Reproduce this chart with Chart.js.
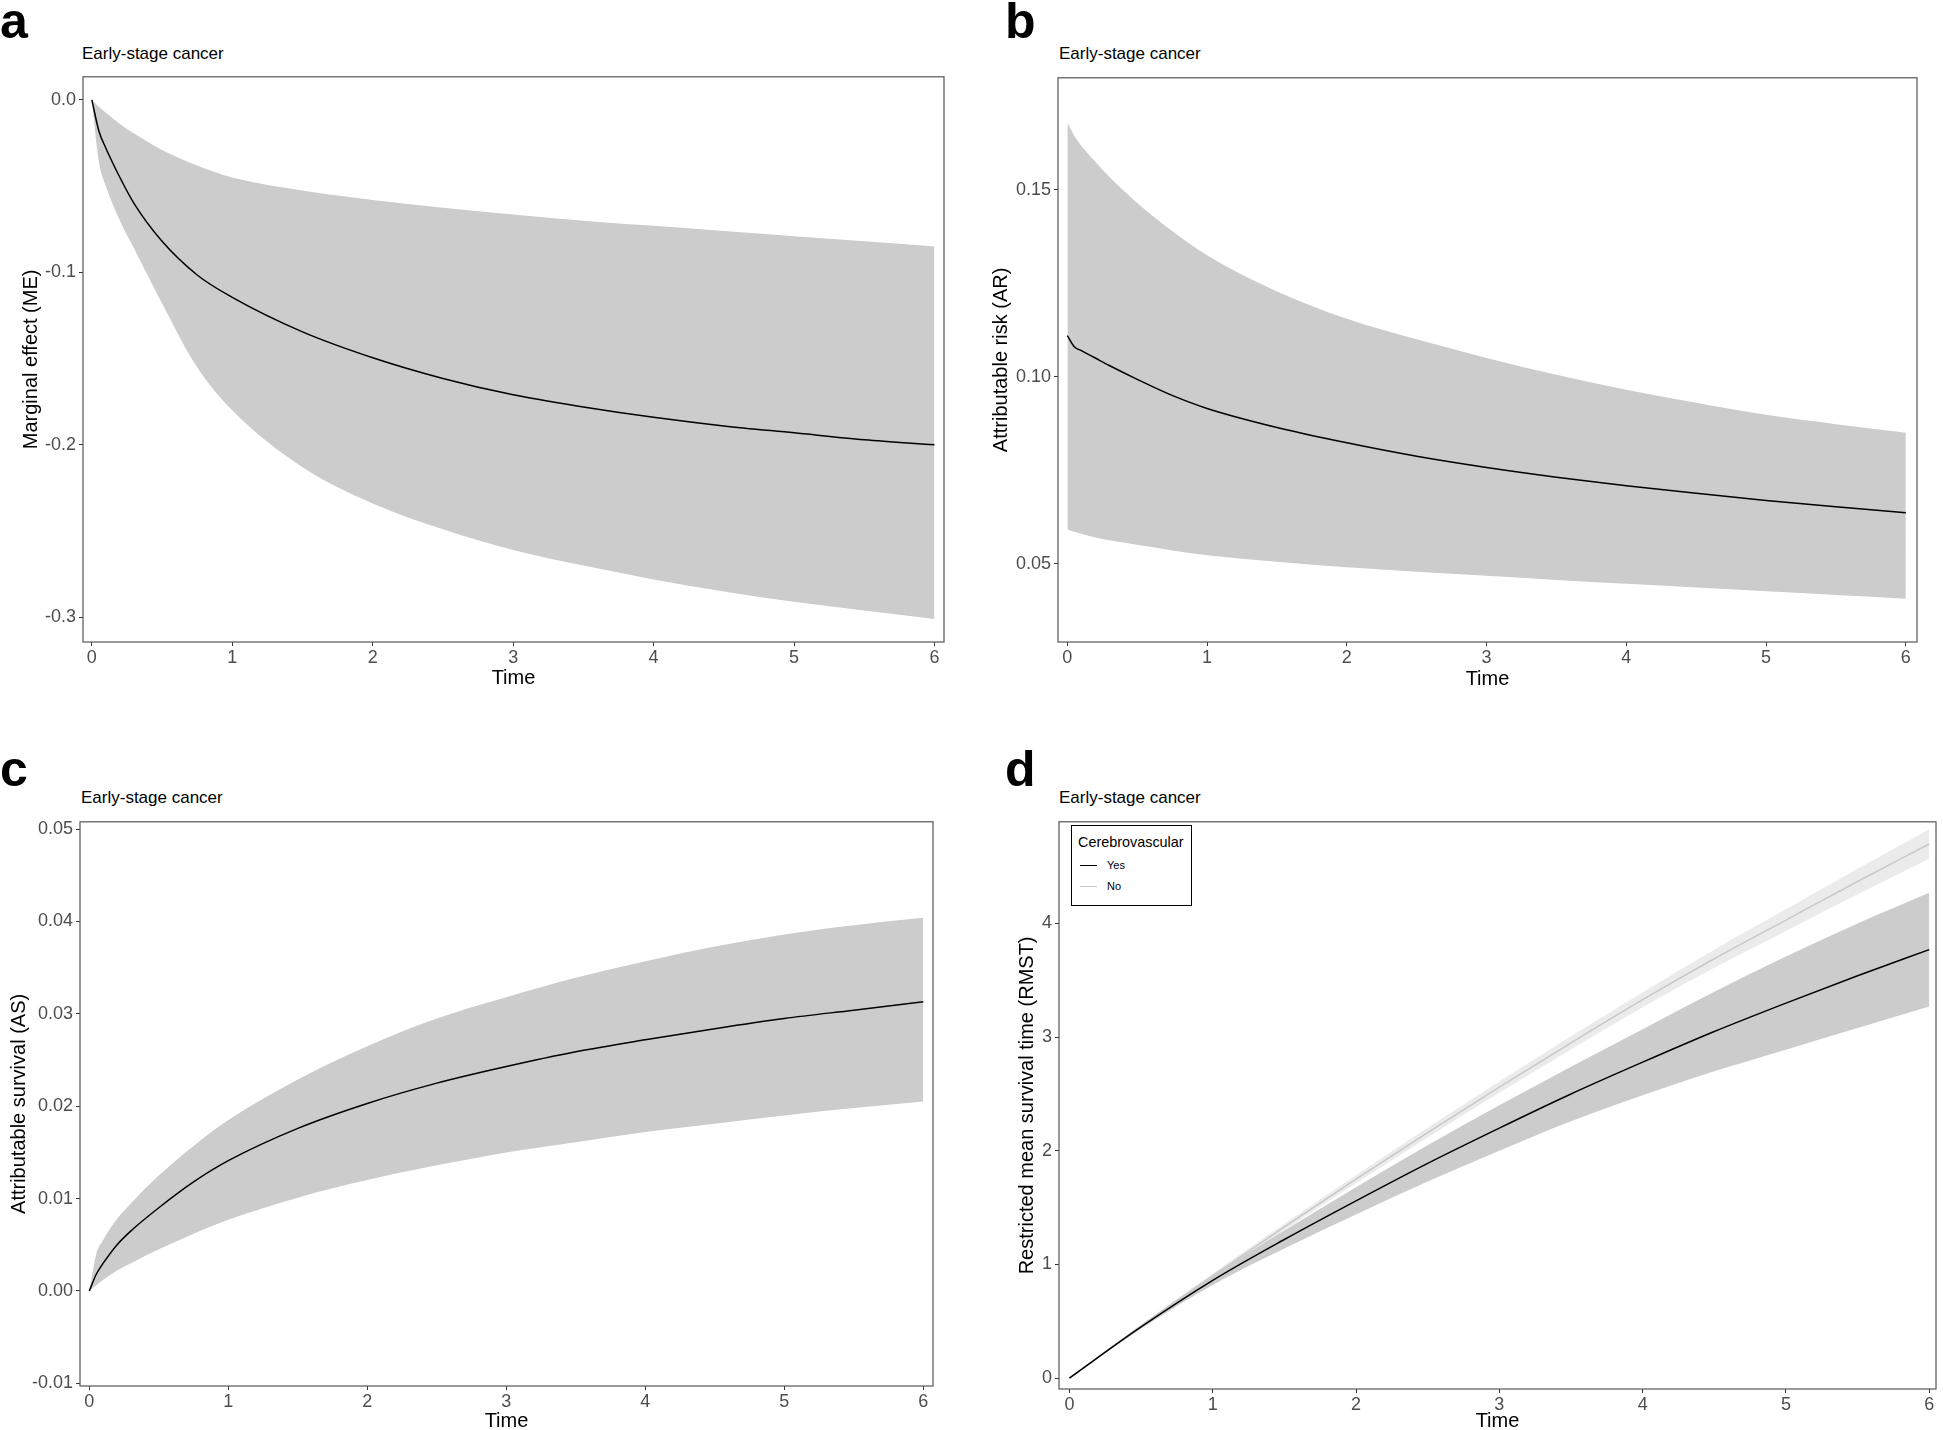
<!DOCTYPE html>
<html>
<head>
<meta charset="utf-8">
<script src="https://cdn.jsdelivr.net/npm/chart.js@4.4.0/dist/chart.umd.min.js"></script>
<style>
body { margin: 0; background: #fff; width: 1943px; height: 1430px; position: relative; overflow: hidden; font-family: "Liberation Sans", Arial, sans-serif; }
.panel { position: absolute; }
.tag { position: absolute; font-weight: bold; font-size: 50px; line-height: 50px; color: #000; }
.sub { position: absolute; font-size: 17px; line-height: 17px; color: #000; white-space: nowrap; }
.legend { position: absolute; border: 1.5px solid #000; background: #fff; box-sizing: border-box; }
.legend div { position: absolute; white-space: nowrap; }
</style>
</head>
<body>

<div class="tag" style="left:0px; top:-4px;">a</div>
<div class="tag" style="left:1005px; top:-4px;">b</div>
<div class="tag" style="left:0px; top:744px;">c</div>
<div class="tag" style="left:1005px; top:744px;">d</div>

<div class="sub" style="left:82px; top:45px;">Early-stage cancer</div>
<div class="sub" style="left:1059px; top:45px;">Early-stage cancer</div>
<div class="sub" style="left:81px; top:789px;">Early-stage cancer</div>
<div class="sub" style="left:1059px; top:789px;">Early-stage cancer</div>

<div class="panel" id="pa" style="left:15px; top:63px; width:932px; height:629px;"><canvas id="ca"></canvas></div>
<div class="panel" id="pb" style="left:985px; top:64px; width:935px; height:629px;"><canvas id="cb"></canvas></div>
<div class="panel" id="pc" style="left:3px; top:808px; width:933px; height:627px;"><canvas id="cc"></canvas></div>
<div class="panel" id="pd" style="left:1011px; top:808px; width:928px; height:627px;"><canvas id="cd"></canvas></div>

<div class="legend" style="left:1071px; top:825px; width:121px; height:81px;">
  <div style="left:6px; top:8px; font-size:14.4px;">Cerebrovascular</div>
  <div style="left:8px; top:39px; width:17px; height:0; border-top:1.5px solid #000;"></div>
  <div style="left:35px; top:33px; font-size:11px;">Yes</div>
  <div style="left:8px; top:60px; width:17px; height:0; border-top:1.5px solid #c8c8c8;"></div>
  <div style="left:35px; top:54px; font-size:11px;">No</div>
</div>

<script>
// time grid for panels a-c
const times = [0, 0.05, 0.1, 0.2, 0.3, 0.5, 0.75, 1, 1.5, 2, 2.5, 3, 3.5, 4, 4.5, 5, 5.5, 6];

// a: marginal effect
const meLine  = [0, -0.018, -0.028, -0.045, -0.060, -0.082, -0.1015, -0.1145, -0.1345, -0.1495, -0.1615, -0.171, -0.178, -0.184, -0.189, -0.193, -0.197, -0.200];
const meUpper = [0, -0.004, -0.0075, -0.014, -0.0195, -0.029, -0.038, -0.045, -0.0525, -0.058, -0.0625, -0.0665, -0.070, -0.073, -0.076, -0.079, -0.082, -0.085];
const meLower = [0, -0.036, -0.050, -0.070, -0.086, -0.118, -0.155, -0.180, -0.213, -0.234, -0.249, -0.261, -0.270, -0.278, -0.285, -0.291, -0.296, -0.301];

// b: attributable risk
const arLine  = [0.111, 0.108, 0.107, 0.105, 0.103, 0.0993, 0.0950, 0.0915, 0.0864, 0.0823, 0.0787, 0.0757, 0.0731, 0.0708, 0.0688, 0.0669, 0.0652, 0.0636];
const arUpper = [0.168, 0.1645, 0.1618, 0.1575, 0.1535, 0.1465, 0.139, 0.1325, 0.1228, 0.1155, 0.110, 0.105, 0.1005, 0.0965, 0.093, 0.0898, 0.0873, 0.085];
const arLower = [0.0591, 0.0585, 0.058, 0.057, 0.0562, 0.055, 0.0535, 0.0522, 0.0505, 0.049, 0.0478, 0.0467, 0.0456, 0.0446, 0.0436, 0.0426, 0.0416, 0.0406];

// c: attributable survival
const asLine  = [0, 0.0018, 0.003, 0.005, 0.0065, 0.009, 0.0118, 0.0141, 0.0176, 0.0203, 0.0225, 0.0243, 0.0259, 0.0272, 0.0284, 0.0295, 0.0304, 0.0313];
const asUpper = [0, 0.004, 0.0055, 0.0078, 0.0095, 0.0125, 0.0157, 0.0185, 0.0229, 0.0265, 0.0295, 0.0318, 0.0339, 0.0357, 0.0373, 0.0386, 0.0396, 0.0404];
const asLower = [0, 0.0006, 0.0012, 0.0022, 0.003, 0.0045, 0.0062, 0.0077, 0.0101, 0.012, 0.0136, 0.015, 0.0161, 0.0172, 0.0181, 0.019, 0.0198, 0.0205];

// d: RMST by cerebrovascular status
const timesD   = [0, 0.5, 1, 1.5, 2, 2.5, 3, 3.5, 4, 4.5, 5, 5.5, 6];
const yesLine  = [0, 0.45, 0.86, 1.22, 1.56, 1.89, 2.2, 2.5, 2.78, 3.05, 3.3, 3.54, 3.77];
const yesUpper = [0, 0.465, 0.9, 1.3, 1.68, 2.05, 2.4, 2.74, 3.07, 3.4, 3.71, 4.0, 4.27];
const yesLower = [0, 0.435, 0.82, 1.14, 1.44, 1.73, 2.0, 2.26, 2.49, 2.7, 2.89, 3.08, 3.27];
const noLine   = [0, 0.46, 0.9, 1.33, 1.75, 2.16, 2.56, 2.95, 3.33, 3.69, 4.03, 4.37, 4.7];
const noUpper  = [0, 0.47, 0.92, 1.358, 1.785, 2.202, 2.61, 3.008, 3.396, 3.77, 4.125, 4.482, 4.83];
const noLower  = [0, 0.45, 0.88, 1.302, 1.715, 2.118, 2.51, 2.892, 3.264, 3.61, 3.935, 4.258, 4.57];

const xTicks = [0, 1, 2, 3, 4, 5, 6];
const meTicks = [0, -0.1, -0.2, -0.3];
const arTicks = [0.05, 0.10, 0.15];
const asTicks = [-0.01, 0, 0.01, 0.02, 0.03, 0.04, 0.05];
const rmstTicks = [0, 1, 2, 3, 4];

const pts = (xs, ys) => xs.map((x, i) => ({ x: x, y: ys[i] }));

const framePlugin = {
    id: 'frame',
    afterDatasetsDraw(chart) {
        const { ctx, chartArea: a } = chart;
        ctx.save();
        ctx.strokeStyle = '#555';
        ctx.lineWidth = 1.2;
        ctx.strokeRect(a.left, a.top, a.right - a.left, a.bottom - a.top);
        ctx.restore();
    }
};

function band(xs, ys, color, fill) {
    return {
        data: pts(xs, ys), fill: fill, backgroundColor: color,
        borderWidth: 0, pointRadius: 0, cubicInterpolationMode: 'monotone'
    };
}

function line(xs, ys, color) {
    return {
        data: pts(xs, ys), fill: false, borderColor: color,
        borderWidth: 1.5, pointRadius: 0, cubicInterpolationMode: 'monotone'
    };
}

function panel(id, cfg) {
    const tickFont = { family: '"Liberation Sans", Arial, sans-serif', size: 18 };
    const titleFont = { family: '"Liberation Sans", Arial, sans-serif', size: 20 };
    new Chart(document.getElementById(id), {
        type: 'line',
        data: { datasets: cfg.datasets },
        options: {
            responsive: true,
            maintainAspectRatio: false,
            animation: false,
            events: [],
            layout: { padding: { top: 6, right: 3, left: 0, bottom: 0 } },
            plugins: { legend: { display: false }, tooltip: { enabled: false } },
            scales: {
                x: {
                    type: 'linear', min: cfg.xMin, max: cfg.xMax,
                    afterBuildTicks: s => { s.ticks = xTicks.map(v => ({ value: v })); },
                    afterFit: s => { s.height = cfg.xHeight; },
                    ticks: { font: tickFont, color: '#4d4d4d', padding: 1, maxRotation: 0, callback: v => String(v) },
                    grid: { drawOnChartArea: false, drawTicks: true, tickLength: 4, color: '#333' },
                    border: { display: false },
                    title: { display: true, text: 'Time', font: titleFont, color: '#000', padding: { top: 0, bottom: 2 } }
                },
                y: {
                    type: 'linear', min: cfg.yMin, max: cfg.yMax,
                    afterBuildTicks: s => { s.ticks = cfg.yTicks.map(v => ({ value: v })); },
                    afterFit: s => { s.width = cfg.yWidth; },
                    ticks: { font: tickFont, color: '#4d4d4d', padding: 3, callback: v => v.toFixed(cfg.yDec) },
                    grid: { drawOnChartArea: false, drawTicks: true, tickLength: 4, color: '#333' },
                    border: { display: false },
                    title: { display: true, text: cfg.yTitle, font: titleFont, color: '#000', padding: { top: 4, bottom: 0 } }
                }
            }
        },
        plugins: [framePlugin]
    });
}

panel('ca', {
    xMin: -0.063, xMax: 6.068, yMin: -0.3143, yMax: 0.0134,
    yTicks: meTicks, yDec: 1, yTitle: 'Marginal effect (ME)', yWidth: 68, xHeight: 50,
    datasets: [
        line(times, meLine, '#000'),
        band(times, meUpper, '#cccccc', '+1'),
        band(times, meLower, '#cccccc', false)
    ]
});

panel('cb', {
    xMin: -0.067, xMax: 6.08, yMin: 0.029, yMax: 0.18,
    yTicks: arTicks, yDec: 2, yTitle: 'Attributable risk (AR)', yWidth: 73, xHeight: 51,
    datasets: [
        line(times, arLine, '#000'),
        band(times, arUpper, '#cccccc', '+1'),
        band(times, arLower, '#cccccc', false)
    ]
});

panel('cc', {
    xMin: -0.067, xMax: 6.07, yMin: -0.0103, yMax: 0.0508,
    yTicks: asTicks, yDec: 2, yTitle: 'Attributable survival (AS)', yWidth: 77, xHeight: 49,
    datasets: [
        line(times, asLine, '#000'),
        band(times, asUpper, '#cccccc', '+1'),
        band(times, asLower, '#cccccc', false)
    ]
});

panel('cd', {
    xMin: -0.0726, xMax: 6.047, yMin: -0.0956, yMax: 4.895,
    yTicks: rmstTicks, yDec: 0, yTitle: 'Restricted mean survival time (RMST)', yWidth: 48, xHeight: 46,
    datasets: [
        line(timesD, yesLine, '#000'),
        line(timesD, noLine, '#c8c8c8'),
        band(timesD, yesUpper, '#cccccc', '+1'),
        band(timesD, yesLower, '#cccccc', false),
        band(timesD, noUpper, '#ebebeb', '+1'),
        band(timesD, noLower, '#ebebeb', false)
    ]
});
</script>
</body>
</html>
